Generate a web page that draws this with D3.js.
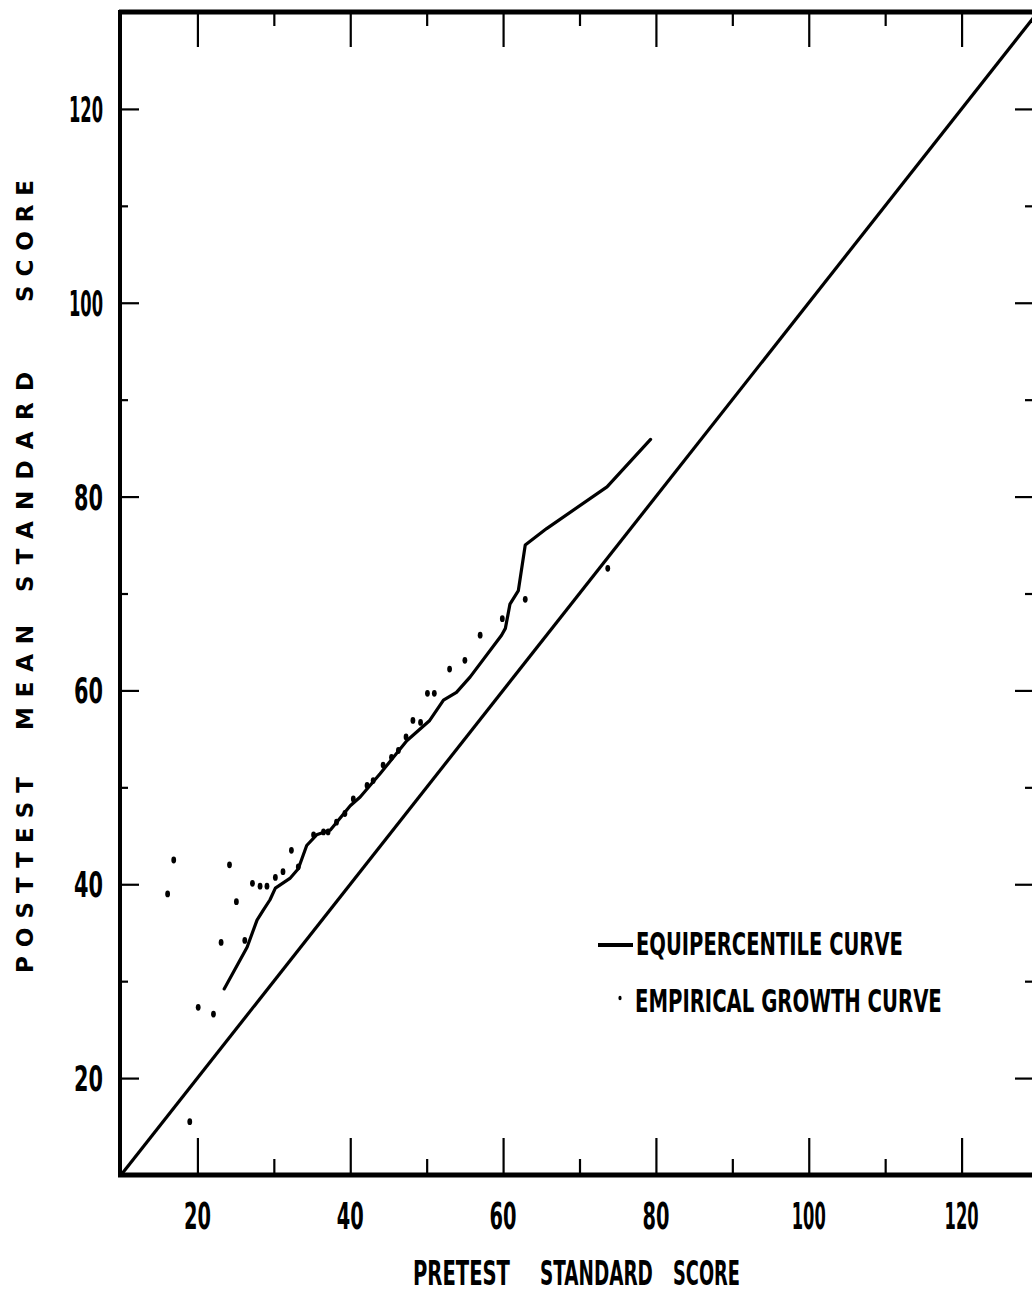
<!DOCTYPE html>
<html>
<head>
<meta charset="utf-8">
<script src="https://cdn.jsdelivr.net/npm/d3@7"></script>
<style>
  html, body { margin: 0; padding: 0; background: #fff; }
  svg { display: block; }
  .cond { font-family: "DejaVu Sans Condensed", "DejaVu Sans", sans-serif; font-weight: bold; font-stretch: condensed; fill: #000; }
  .wide { font-family: "DejaVu Sans", "Liberation Sans", sans-serif; font-weight: bold; fill: #000; }
</style>
</head>
<body>
<script>
// ---- data ----
const xMajorTicks = [20, 40, 60, 80, 100, 120];
const xMinorTicks = [30, 50, 70, 90, 110];
const yMajorTicks = [20, 40, 60, 80, 100, 120];
const yMinorTicks = [30, 50, 70, 90, 110];

// Equipercentile curve (pretest, posttest)
const equiX = [23.5, 26.5, 27.8, 28.6, 29.5, 30.2, 32.1, 33.2, 34.3, 35.6, 37.4, 40.0, 41.3, 43.9, 47.4, 50.4, 52.2, 53.9, 55.7, 59.8, 60.3, 60.9, 62.0, 62.9, 65.7, 73.6, 79.3];
const equiY = [29.2, 33.5, 36.3, 37.3, 38.4, 39.6, 40.6, 41.6, 44.0, 45.1, 45.6, 48.1, 49.0, 51.4, 54.8, 56.9, 59.0, 59.8, 61.4, 65.7, 66.4, 68.9, 70.3, 75.0, 76.7, 81.0, 85.9];

// Empirical growth curve points
const empX = [16.9, 16.1, 24.2, 25.1, 23.1, 26.2, 20.1, 22.1, 19.0, 27.2, 28.2, 29.1, 30.2, 31.2, 32.3, 33.2, 35.2, 36.5, 37.1, 38.2, 39.3, 40.4, 42.2, 43.0, 44.3, 45.4, 46.3, 47.3, 48.2, 49.2, 50.1, 51.0, 53.0, 55.0, 57.0, 59.9, 62.9, 73.7];
const empY = [42.5, 39.0, 42.0, 38.2, 34.0, 34.2, 27.3, 26.6, 15.5, 40.1, 39.8, 39.8, 40.7, 41.3, 43.5, 41.8, 45.1, 45.4, 45.4, 46.4, 47.3, 48.8, 50.2, 50.7, 52.3, 53.1, 53.8, 55.2, 56.9, 56.7, 59.7, 59.7, 62.2, 63.1, 65.7, 67.4, 69.4, 72.6];

// Identity line
const diagX = [10, 130];
const diagY = [10, 130];

const xTitleWords = ["PRETEST", "STANDARD", "SCORE"];
const yTitleWords = ["POSTTEST", "MEAN", "STANDARD", "SCORE"];
const legendLabels = ["EQUIPERCENTILE CURVE", "EMPIRICAL GROWTH CURVE"];

// ---- layout ----
const W = 1032, H = 1293;
const pL = 121, pR = 1038, pT = 12, pB = 1175;

const svg = d3.select("body").append("svg").attr("width", W).attr("height", H);
svg.append("rect").attr("width", W).attr("height", H).attr("fill", "#fff");

const x = d3.scaleLinear().domain([10, 130]).range([pL, pR]);
const y = d3.scaleLinear().domain([10, 130]).range([pB, pT]);

// squeeze a text horizontally to a target width (condensed lettering)
function fit(sel, px, py, target) {
  sel.each(function (d, i) {
    const w = this.getComputedTextLength();
    const X = typeof px === "function" ? px(d, i) : px;
    const Y = typeof py === "function" ? py(d, i) : py;
    const T = typeof target === "function" ? target(d, i) : target;
    d3.select(this).attr("transform", `translate(${X},${Y}) scale(${T / w},1)`);
  });
}

// frame
svg.append("line").attr("x1", pL - 2).attr("x2", pR).attr("y1", pT).attr("y2", pT).attr("stroke", "#000").attr("stroke-width", 5);
svg.append("line").attr("x1", pL - 1).attr("x2", pL - 1).attr("y1", pT - 2).attr("y2", pB + 2).attr("stroke", "#000").attr("stroke-width", 4);
svg.append("line").attr("x1", pL - 3).attr("x2", pR).attr("y1", pB).attr("y2", pB).attr("stroke", "#000").attr("stroke-width", 5);
svg.append("line").attr("x1", pR).attr("x2", pR).attr("y1", pT).attr("y2", pB).attr("stroke", "#000").attr("stroke-width", 4);

function styleAxis(g) {
  g.select(".domain").remove();
  g.selectAll(".tick line").attr("stroke", "#000").attr("stroke-width", 2.2);
  g.selectAll(".tick text").remove();
}

// bottom ticks (pointing up)
svg.append("g").attr("transform", `translate(0,${pB})`)
  .call(d3.axisTop(x).tickValues(xMajorTicks).tickSize(37).tickSizeOuter(0)).call(styleAxis);
svg.append("g").attr("transform", `translate(0,${pB})`)
  .call(d3.axisTop(x).tickValues(xMinorTicks).tickSize(16).tickSizeOuter(0)).call(styleAxis);
// top ticks (pointing down)
svg.append("g").attr("transform", `translate(0,${pT})`)
  .call(d3.axisBottom(x).tickValues(xMajorTicks).tickSize(35).tickSizeOuter(0)).call(styleAxis);
svg.append("g").attr("transform", `translate(0,${pT})`)
  .call(d3.axisBottom(x).tickValues(xMinorTicks).tickSize(14).tickSizeOuter(0)).call(styleAxis);
// left ticks (pointing right)
svg.append("g").attr("transform", `translate(${pL - 1},0)`)
  .call(d3.axisRight(y).tickValues(yMajorTicks).tickSize(19).tickSizeOuter(0)).call(styleAxis);
svg.append("g").attr("transform", `translate(${pL - 1},0)`)
  .call(d3.axisRight(y).tickValues(yMinorTicks).tickSize(8).tickSizeOuter(0)).call(styleAxis);
// right ticks (pointing left)
svg.append("g").attr("transform", `translate(${pR},0)`)
  .call(d3.axisLeft(y).tickValues(yMajorTicks).tickSize(23).tickSizeOuter(0)).call(styleAxis);
svg.append("g").attr("transform", `translate(${pR},0)`)
  .call(d3.axisLeft(y).tickValues(yMinorTicks).tickSize(13).tickSizeOuter(0)).call(styleAxis);

// tick labels
svg.append("g").selectAll("text").data(xMajorTicks).join("text")
  .attr("class", "cond")
  .attr("text-anchor", "middle")
  .attr("font-size", 38)
  .text(d => d)
  .call(fit, d => x(d), 1229, d => d >= 100 ? 34 : 27);

svg.append("g").selectAll("text").data(yMajorTicks).join("text")
  .attr("class", "cond")
  .attr("text-anchor", "end")
  .attr("font-size", 36)
  .text(d => d)
  .call(fit, 103, d => y(d) + 13, d => d >= 100 ? 34 : 29);

// identity line
const line = d3.line().x(d => x(d[0])).y(d => y(d[1]));
svg.append("path").datum(d3.zip(diagX, diagY))
  .attr("d", line).attr("fill", "none").attr("stroke", "#000").attr("stroke-width", 3.2);

// equipercentile curve
svg.append("path").datum(d3.zip(equiX, equiY))
  .attr("d", line).attr("fill", "none").attr("stroke", "#000")
  .attr("stroke-width", 3.2).attr("stroke-linejoin", "round").attr("stroke-linecap", "round");

// empirical points
svg.append("g").selectAll("ellipse").data(d3.zip(empX, empY)).join("ellipse")
  .attr("cx", d => x(d[0])).attr("cy", d => y(d[1]))
  .attr("rx", 2.4).attr("ry", 3.4).attr("fill", "#000");

// x title
const xTitlePos = [[413, 97], [540, 113], [673, 67]];
svg.append("g").selectAll("text").data(xTitleWords).join("text")
  .attr("class", "cond")
  .attr("font-size", 34)
  .text(d => d)
  .call(fit, (d, i) => xTitlePos[i][0], 1285, (d, i) => xTitlePos[i][1]);

// y title (rotated)
const yTitlePos = [[973, 196], [730, 105], [592, 220], [302, 122]];
svg.append("g").selectAll("text").data(yTitleWords).join("text")
  .attr("class", "wide")
  .attr("transform", (d, i) => `translate(33,${yTitlePos[i][0]}) rotate(-90)`)
  .attr("font-size", 23)
  .attr("textLength", (d, i) => yTitlePos[i][1])
  .attr("lengthAdjust", "spacing")
  .text(d => d);

// legend
svg.append("line").attr("x1", 598).attr("x2", 633).attr("y1", 945).attr("y2", 945)
  .attr("stroke", "#000").attr("stroke-width", 4);
svg.append("ellipse").attr("cx", 620).attr("cy", 998).attr("rx", 1.6).attr("ry", 2.3).attr("fill", "#000");
const legendPos = [[636, 955, 267], [635, 1012, 307]];
svg.append("g").selectAll("text").data(legendLabels).join("text")
  .attr("class", "cond")
  .attr("font-size", 32)
  .text(d => d)
  .call(fit, (d, i) => legendPos[i][0], (d, i) => legendPos[i][1], (d, i) => legendPos[i][2]);
</script>
</body>
</html>
